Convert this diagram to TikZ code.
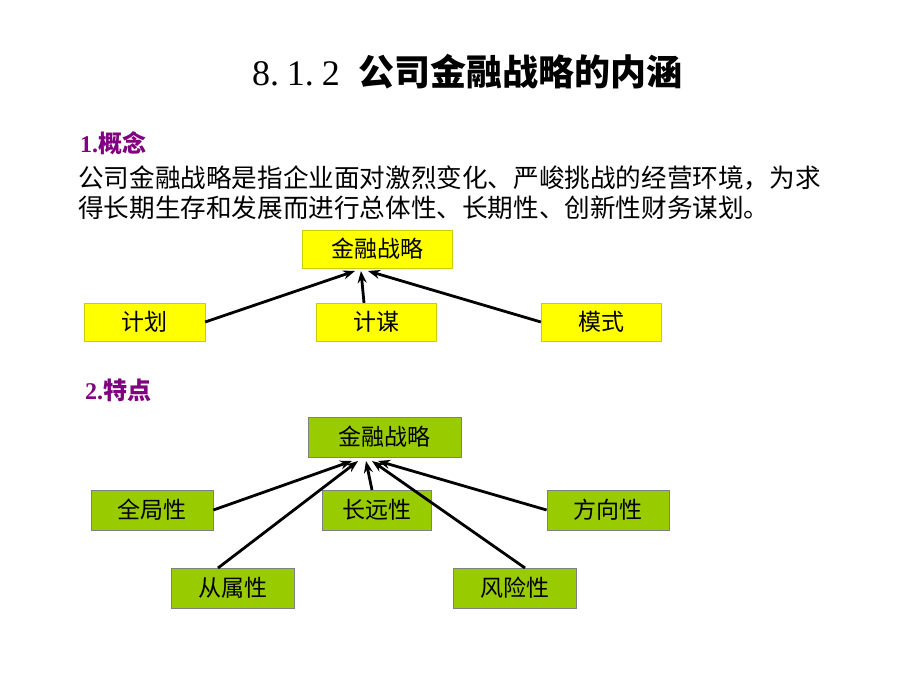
\documentclass[tikz,border=0pt]{standalone}
\usepackage{fontspec}
\setmainfont{Liberation Serif}
\newfontfamily\cjk{Noto Sans CJK SC}
\usetikzlibrary{arrows.meta}
\definecolor{purp}{RGB}{128,0,128}
\definecolor{yel}{RGB}{255,255,0}
\definecolor{grn}{RGB}{153,204,0}
\begin{document}
\begin{tikzpicture}[x=1pt,y=-1pt,
  ybox/.style={fill=yel,draw=yel!80!black,line width=0.3pt,inner sep=0,font=\cjk\fontsize{23}{23}\selectfont},
  gbox/.style={fill=grn,draw=gray,line width=0.8pt,inner sep=0,font=\cjk\fontsize{23}{23}\selectfont},
  arr/.style={line width=2.8pt,-{Stealth[length=12pt,width=9pt]}}]
\useasboundingbox[fill=white] (0,0) rectangle (920,690);
\node (title) at (467,72) {\fontsize{36}{36}\selectfont 8.\hspace{8pt}1.\hspace{8pt}2\hspace{18pt}{\cjk\bfseries 公司金融战略的内涵}};
\node[anchor=west,text=purp,inner sep=0] (h1) at (80,143) {\fontsize{24}{24}\selectfont\bfseries 1.{\cjk 概念}};
\node[anchor=west,font=\cjk\fontsize{25.6}{25.6}\selectfont,inner sep=0] (p1) at (78,178) {公司金融战略是指企业面对激烈变化、严峻挑战的经营环境，为求};
\node[anchor=west,font=\cjk\fontsize{25.6}{25.6}\selectfont,inner sep=0] (p2) at (78,208) {得长期生存和发展而进行总体性、长期性、创新性财务谋划。};
\node[ybox,minimum width=150pt,minimum height=38pt] (a0) at (377,249) {金融战略};
\node[ybox,minimum width=121pt,minimum height=38pt] (a1) at (144.5,322) {计划};
\node[ybox,minimum width=120pt,minimum height=38pt] (a2) at (376,322) {计谋};
\node[ybox,minimum width=120pt,minimum height=38pt] (a3) at (601,322) {模式};
\coordinate (t1) at (355,271);
\coordinate (t2) at (361,271);
\coordinate (t3) at (368,271);
\draw[arr] (a1.east) -- (t1);
\draw[arr] (a2.north-|364,0) -- (t2);
\draw[arr] (a3.west) -- (t3);
\node[anchor=west,text=purp,inner sep=0] (h2) at (85,390) {\fontsize{24}{24}\selectfont\bfseries 2.{\cjk 特点}};
\node[gbox,minimum width=153pt,minimum height=40pt] (b0) at (384.5,437) {金融战略};
\node[gbox,minimum width=122pt,minimum height=40pt] (b1) at (152,510) {全局性};
\node[gbox,minimum width=109pt,minimum height=40pt] (b2) at (376.5,510) {长远性};
\node[gbox,minimum width=122pt,minimum height=40pt] (b3) at (608,510) {方向性};
\node[gbox,minimum width=123pt,minimum height=40pt] (b4) at (232.5,588) {从属性};
\node[gbox,minimum width=123pt,minimum height=40pt] (b5) at (514.5,588) {风险性};
\coordinate (u1) at (352,461);
\coordinate (u2) at (366,461);
\coordinate (u3) at (378,461);
\coordinate (u4) at (358,461);
\coordinate (u5) at (372,461);
\coordinate (s4) at (218,568);
\coordinate (s5) at (525,568);
\coordinate (s2) at (372,490);
\draw[arr] (b1.east) -- (u1);
\draw[arr] (s2) -- (u2);
\draw[arr] (b3.west) -- (u3);
\draw[arr] (s4) -- (u4);
\draw[arr] (s5) -- (u5);
\end{tikzpicture}
\end{document}
